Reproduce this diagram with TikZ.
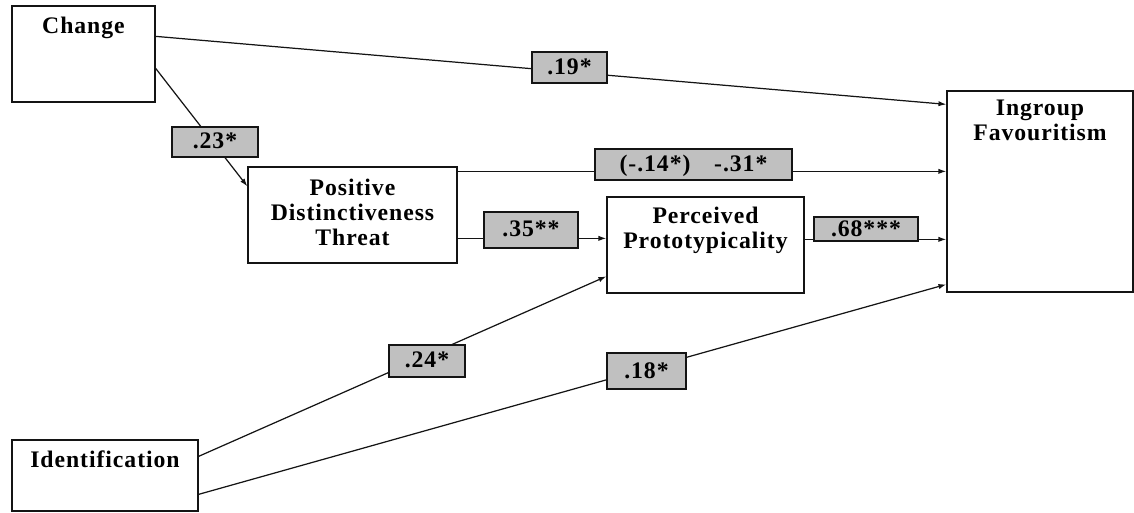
\documentclass[tikz,border=0pt]{standalone}
\usepackage{fontspec}
\setmainfont{Liberation Serif}[LetterSpace=4]
\usepackage{tikz}
\usetikzlibrary{arrows.meta,calc,positioning}
\definecolor{figline}{RGB}{20,20,20}
\definecolor{figcoef}{RGB}{192,192,192}
\tikzset{
  var/.style  ={draw=figline, line width=0.75pt, fill=white, inner sep=0pt},
  vtxt/.style ={font=\fontsize{13.5}{14.2}\selectfont\bfseries, align=center, inner sep=0pt},
  coef/.style ={draw=figline, line width=0.75pt, fill=figcoef, inner sep=0pt,
                text depth=1pt, font=\fontsize{13.5}{14.2}\selectfont\bfseries},
  eff/.style  ={draw=figline, line width=0.7pt, -{Latex[length=4.5pt,width=3pt]}},
}
\begin{document}
\begin{tikzpicture}[x=0.02cm,y=-0.02cm]
  \useasboundingbox (0,0) rectangle (1134,512);
  \node[var, minimum width=2.86cm, minimum height=1.92cm] (chg) at (83.5,54) {};
  \node[var, minimum width=4.18cm, minimum height=1.92cm] (pdt) at (352.5,215) {};
  \node[var, minimum width=3.94cm, minimum height=1.92cm] (ppt) at (705.5,245) {};
  \node[var, minimum width=3.72cm, minimum height=4.02cm] (igf) at (1040,191.5) {};
  \node[var, minimum width=3.72cm, minimum height=1.42cm] (idf) at (105,475.5) {};
  \node[vtxt, below=0.22cm of chg.north] (chgT) {Change};
  \node[vtxt, below=0.24cm of pdt.north] (pdtT) {Positive\\Distinctiveness\\Threat};
  \node[vtxt, below=0.2cm of ppt.north] (pptT) {Perceived\\Prototypicality};
  \node[vtxt, below=0.19cm of igf.north] (igfT) {Ingroup\\Favouritism};
  \node[vtxt, below=0.22cm of idf.north] (idfT) {Identification};
  \coordinate (pdtA) at ($(pdt.north east)+(0,5)$);
  \coordinate (pdtB) at ($(pdt.north east)+(0,72)$);
  \coordinate (pptA) at ($(ppt.north east)+(0,43)$);
  \draw[eff] ($(chg.north east)+(0,31)$) -- ($(igf.north west)+(0,14)$);
  \draw[eff] ($(chg.north east)+(0,63)$) -- ($(pdt.north west)+(0,20)$);
  \draw[eff] (pdtA) -- (pdtA -| igf.west);
  \draw[eff] (pdtB) -- (pdtB -| ppt.west);
  \draw[eff] (pptA) -- (pptA -| igf.west);
  \draw[eff] ($(idf.north east)+(0,17)$) -- ($(ppt.north west)+(0,80)$);
  \draw[eff] ($(idf.north east)+(0,55)$) -- ($(igf.north west)+(0,194)$);
  \node[coef, minimum width=1.5cm, minimum height=0.62cm] (c19) at (569.5,67.5) {.19*};
  \node[coef, minimum width=1.72cm, minimum height=0.6cm] (c23) at (215,142) {.23*};
  \node[coef, minimum width=3.94cm, minimum height=0.62cm] (c14) at (693.5,164.5) {(-.14*)\hspace{1em}-.31*};
  \node[coef, minimum width=1.88cm, minimum height=0.72cm] (c35) at (531,230) {.35**};
  \node[coef, minimum width=2.08cm, minimum height=0.48cm] (c68) at (866,229) {.68***};
  \node[coef, minimum width=1.52cm, minimum height=0.64cm] (c24) at (427,361) {.24*};
  \node[coef, minimum width=1.58cm, minimum height=0.72cm] (c18) at (646.5,371) {.18*};
\end{tikzpicture}
\end{document}
